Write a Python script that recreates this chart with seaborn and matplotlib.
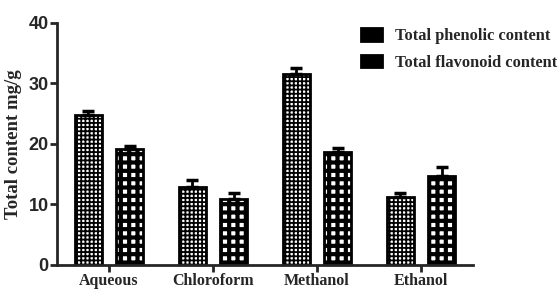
import matplotlib
matplotlib.use("Agg")
import matplotlib.pyplot as plt
import seaborn as sns
import pandas as pd

categories = ["Aqueous", "Chloroform", "Methanol", "Ethanol"]
series_names = ["Total phenolic content", "Total flavonoid content"]
phenolic = [24.8, 12.9, 31.6, 11.2]
phenolic_err = [0.6, 1.1, 0.9, 0.7]
flavonoid = [19.2, 10.9, 18.7, 14.7]
flavonoid_err = [0.5, 1.0, 0.6, 1.5]
yticks = [0, 10, 20, 30, 40]

df = pd.DataFrame({
    "Solvent": categories * 2,
    "Series": [series_names[0]] * 4 + [series_names[1]] * 4,
    "Value": phenolic + flavonoid,
})
errs = [phenolic_err, flavonoid_err]
hatches = ["++++", "++"]
hatch_lws = [1.3, 3.0]

sns.set_style("ticks")
plt.rcParams["hatch.linewidth"] = 1.5
plt.rcParams["font.family"] = ["Liberation Serif", "DejaVu Serif"]

fig = plt.figure(figsize=(5.58, 2.94), dpi=100)
ax = fig.add_axes([0.102, 0.099, 0.746, 0.823])

sns.barplot(data=df, x="Solvent", y="Value", hue="Series", order=categories,
            hue_order=series_names, errorbar=None, gap=0.35, width=0.8,
            palette=["white", "white"], edgecolor="black", linewidth=2,
            legend=False, ax=ax)

for cont, h, hl, e in zip(ax.containers, hatches, hatch_lws, errs):
    xs, tops = [], []
    for p in cont.patches:
        p.set_hatch(h)
        if hasattr(p, "set_hatch_linewidth"):
            p.set_hatch_linewidth(hl)
        p.set_edgecolor("black")
        xs.append(p.get_x() + p.get_width() / 2)
        tops.append(p.get_height())
    ax.errorbar(xs, tops, yerr=[[0] * len(e), e], fmt="none", ecolor="black",
                elinewidth=2, capsize=4.5, capthick=2.5, zorder=3)

ax.set_xlim(-0.5, 3.5)
ax.set_ylim(0, 40)
ax.set_yticks(yticks)
ax.set_yticklabels([str(t) for t in yticks],
                   fontfamily=["Liberation Sans Narrow", "Liberation Sans"],
                   fontweight="bold", fontsize=13)
for lab in ax.get_xticklabels():
    lab.set_fontweight("bold")
    lab.set_fontsize(11.5)
ax.set_xlabel("")
ax.set_ylabel("Total content mg/g", fontsize=13.5, fontweight="bold")
ax.yaxis.set_label_coords(-0.083, 0.5)
sns.despine(ax=ax)
for s in ["left", "bottom"]:
    ax.spines[s].set_linewidth(2)
ax.tick_params(axis="both", width=2, length=5, pad=1)

handles = [ax.containers[0].patches[0], ax.containers[1].patches[0]]
leg = ax.legend(handles, series_names, loc="upper left",
                bbox_to_anchor=(0.647, 0.905), bbox_transform=fig.transFigure,
                frameon=False, borderpad=0, borderaxespad=0,
                handlelength=1.3, handleheight=0.8, handletextpad=0.8,
                labelspacing=0.65,
                prop={"family": "Liberation Serif", "weight": "bold", "size": 11.8})
for lh in leg.legend_handles:
    lh.set_facecolor("black")
    lh.set_edgecolor("black")

fig.savefig("out.png", dpi=100)
